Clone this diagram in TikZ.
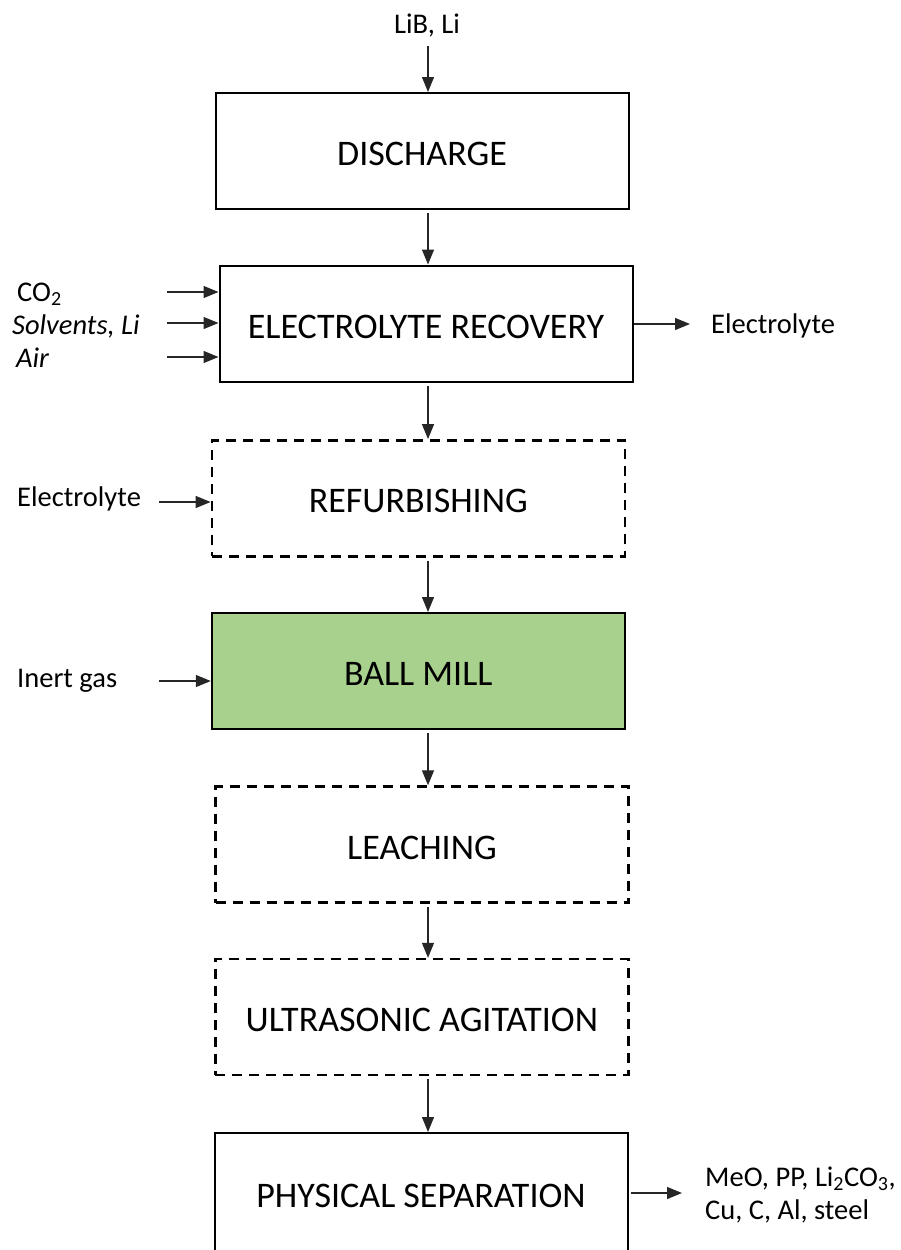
\documentclass[tikz,border=0pt]{standalone}
\usepackage{fontspec}
\setmainfont{Carlito}
\usetikzlibrary{arrows.meta}
\definecolor{millgreen}{HTML}{A9D18E}
\begin{document}
\begin{tikzpicture}[x=1pt,y=-1pt,
  proc/.style={draw=black, line width=2pt, minimum width=413pt, minimum height=116pt,
    inner sep=0pt, text height=29pt, text depth=0pt, font=\fontsize{36}{40}\selectfont},
  optional/.style={proc, dash pattern=on 10pt off 7pt, line width=2.4pt},
  lbl/.style={inner sep=0pt, font=\fontsize{28.5}{33}\selectfont},
  flow/.style={draw=black!85, line width=1.3pt, -{Triangle[length=15pt,width=12pt]}},
  gap/.style={shorten <=3pt}
]
\useasboundingbox (0,0) rectangle (900,1250);
\clip (0,0) rectangle (900,1250);

% process steps
\node[proc] (discharge) at (422,151) {DISCHARGE};
\node[proc] (elrec) at (426,323.5) {ELECTROLYTE RECOVERY};
\node[optional] (refurb) at (418.3,498.3) {REFURBISHING};
\node[proc, fill=millgreen] (mill) at (418.3,671) {BALL MILL};
\node[optional] (leach) at (422,844.5) {LEACHING};
\node[optional] (ultra) at (421.8,1017) {ULTRASONIC AGITATION};
\node[proc, minimum height=120pt] (phys) at (421,1193) {PHYSICAL SEPARATION};

% vertical flow line
\coordinate (axis) at (428,0);

% feed
\node[lbl] (feed) at (427,26) {LiB, Li};
\draw[flow] (feed.south -| axis) ++(0,8) coordinate (feedstart) -- (discharge.north -| axis);

% main flow
\draw[flow, gap] (discharge.south -| axis) -- (elrec.north -| axis);
\draw[flow, gap] (elrec.south -| axis) -- (refurb.north -| axis);
\draw[flow, gap] (refurb.south -| axis) -- (mill.north -| axis);
\draw[flow, gap] (mill.south -| axis) -- (leach.north -| axis);
\draw[flow, gap] (leach.south -| axis) -- (ultra.north -| axis);
\draw[flow, gap] (ultra.south -| axis) -- (phys.north -| axis);

% inputs to electrolyte recovery
\node[lbl, anchor=west] (co2) at (17,294) {CO\textsubscript{2}};
\node[lbl, anchor=west] (solv) at (12,326) {\itshape Solvents, Li};
\node[lbl, anchor=west] (air) at (16,358) {\itshape Air};
\coordinate (co2s) at (167,292);
\coordinate (solvs) at (167,323);
\coordinate (airs) at (167,357);
\draw[flow] (co2s) -- (co2s -| elrec.west);
\draw[flow] (solvs) -- (solvs -| elrec.west);
\draw[flow] (airs) -- (airs -| elrec.west);

% electrolyte out
\node[lbl, anchor=west] (elout) at (711,326) {Electrolyte};
\coordinate (eloute) at (690,324);
\draw[flow] (eloute -| elrec.east) -- (eloute);

% electrolyte into refurbishing
\node[lbl, anchor=west] (elin) at (17,499) {Electrolyte};
\coordinate (elins) at (159,502);
\draw[flow] (elins) -- (elins -| refurb.west);

% inert gas into ball mill
\node[lbl, anchor=west] (inert) at (17,681) {Inert gas};
\coordinate (inerts) at (159,681);
\draw[flow] (inerts) -- (inerts -| mill.west);

% products
\node[lbl, anchor=west, align=left] (prod) at (705,1195)
  {MeO, PP, Li\textsubscript{2}CO\textsubscript{3},\\Cu, C, Al, steel};
\coordinate (prode) at (682,1193);
\draw[flow, shorten <=2pt] (prode -| phys.east) -- (prode);
\end{tikzpicture}
\end{document}
